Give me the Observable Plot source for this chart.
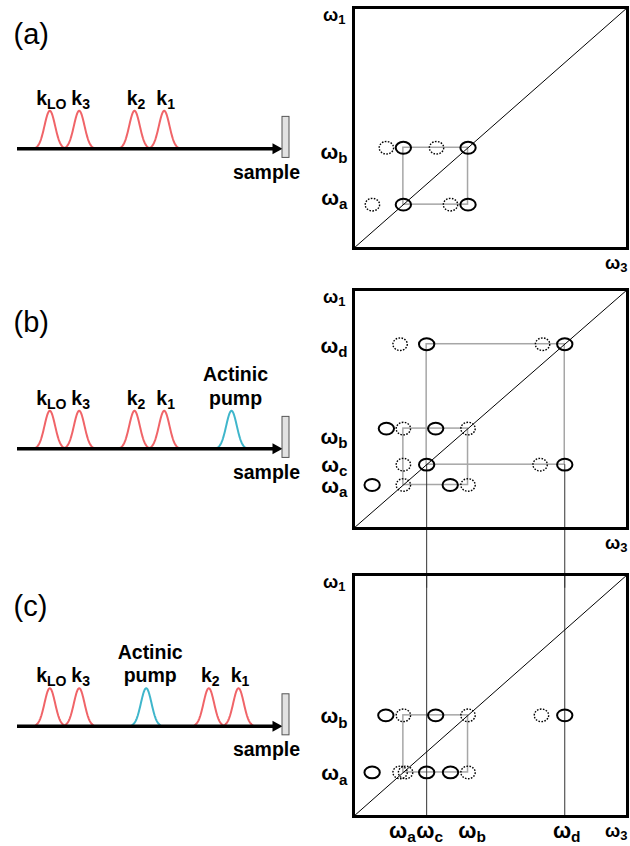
<!DOCTYPE html>
<html>
<head>
<meta charset="utf-8">
<script src="https://cdn.jsdelivr.net/npm/d3@7"></script>
<script src="https://cdn.jsdelivr.net/npm/@observablehq/plot@0.6"></script>
<style>
  html, body { margin: 0; padding: 0; background: white; }
  #fig { position: relative; width: 630px; height: 846px; overflow: hidden; }
  #fig svg { position: absolute; }
</style>
</head>
<body>
<div id="fig"></div>
<script>
// ---------------- DATA ----------------
// Pulse sequences (delay positions along the beam, arbitrary units)
const pulseNamesA = ["k_LO", "k_3", "k_2", "k_1"];
const pulseDelaysA = [49.3, 78.7, 134, 163.7];
const pulseNamesB = ["k_LO", "k_3", "k_2", "k_1", "Actinic\npump"];
const pulseDelaysB = [49.3, 78.7, 134, 163.7, 231];
const pulseNamesC = ["k_LO", "k_3", "Actinic\npump", "k_2", "k_1"];
const pulseDelaysC = [49.3, 78.7, 145.7, 208.3, 238];

// Frequencies (fraction of spectral window)
const wa = 0.182, wb = 0.418, wc = 0.267, wd = 0.771;

// Peaks [omega3, omega1]
const solidA  = [[wa, wa], [wb, wa], [wa, wb], [wb, wb]];
const dottedA = [[0.069, wa], [0.354, wa], [0.120, wb], [0.303, wb]];

const solidB  = [[wc, wd], [wd, wd], [0.120, wb], [0.300, wb], [wc, wc], [wd, wc], [0.068, wa], [0.353, wa]];
const dottedB = [[0.170, wd], [0.690, wd], [wa, wb], [wb, wb], [wa, wc], [0.681, wc], [wa, wa], [wb, wa]];

const solidC  = [[0.118, wb], [0.300, wb], [wd, wb], [0.068, wa], [wc, wa], [0.354, wa]];
const dottedC = [[wa, wb], [wb, wb], [0.686, wb], [0.170, wa], [0.190, wa], [wb, wa]];

// Cross-peak squares [low, high]
const squaresA = [[wa, wb]];
const squaresB = [[wa, wb], [wc, wd]];
const squaresC = [[wa, wb]];

// Vertical guide lines
const guidesB = [wc, wd];
const guidesC = [wc, wd];

// Axis labels
const rowLabelsA = ["ω_b", "ω_a"];
const rowValuesA = [wb, wa];
const rowLabelsB = ["ω_d", "ω_b", "ω_c", "ω_a"];
const rowValuesB = [wd, wb, wc, wa];
const rowLabelsC = ["ω_b", "ω_a"];
const rowValuesC = [wb, wa];
const colLabelsC = ["ω_a", "ω_c", "ω_b", "ω_d"];
const colValuesC = [wa, wc, wb, wd];

// ---------------- LAYOUT ----------------
const FONT = "'Liberation Sans', Arial, Helvetica, sans-serif";
const RED = "#f06468", CYAN = "#3fb6cb";
const rowDyA = [11, 0], rowDyB = [8.5, 15, 7, 7.5], rowDyC = [8, 8];
const colDxC = [-1, 3, 4, 2];

function ellipseSymbol(aspect) {
  return {
    draw(ctx, size) {
      const ry = Math.sqrt(size / Math.PI), rx = ry * aspect, k = 0.5523;
      ctx.moveTo(rx, 0);
      ctx.bezierCurveTo(rx, k * ry, k * rx, ry, 0, ry);
      ctx.bezierCurveTo(-k * rx, ry, -rx, k * ry, -rx, 0);
      ctx.bezierCurveTo(-rx, -k * ry, -k * rx, -ry, 0, -ry);
      ctx.bezierCurveTo(k * rx, -ry, rx, -k * ry, rx, 0);
      ctx.closePath();
    }
  };
}
const arrowHead = {
  draw(ctx) {
    ctx.moveTo(5, 0); ctx.lineTo(-5, -5.5); ctx.lineTo(-5, 5.5); ctx.closePath();
  }
};

function subscripts(svg) {
  svg.querySelectorAll("text").forEach(t => {
    if (t.querySelector("tspan")) return;
    const s = t.textContent, i = s.indexOf("_");
    if (i < 0) return;
    t.textContent = s.slice(0, i);
    const ts = document.createElementNS("http://www.w3.org/2000/svg", "tspan");
    ts.setAttribute("style", "font-size:0.72em");
    ts.setAttribute("dy", "0.28em");
    ts.textContent = s.slice(i + 1);
    t.appendChild(ts);
  });
}

const fig = document.getElementById("fig");
function place(svg, left, top) {
  svg.style.left = left + "px";
  svg.style.top = top + "px";
  subscripts(svg);
  fig.appendChild(svg);
}

// ---------------- LEFT PANELS (pulse sequences) ----------------
function pulsePanel(names, delays, tag, top, base, tagY) {
  const sig = 5.3;
  const curve = delays.flatMap((d, i) =>
    d3.range(-14, 14.01, 0.5).map(t => ({i, x: d + t, y: Math.exp(-t * t / (2 * sig * sig)), c: names[i].startsWith("k") ? RED : CYAN})));
  const svg = Plot.plot({
    width: 300, height: 200,
    marginLeft: 0, marginRight: 0, marginTop: 0, marginBottom: 0,
    style: {fontFamily: FONT, overflow: "visible", background: "transparent"},
    x: {domain: [0, 300], range: [0, 300], axis: null},
    y: {domain: [0, 1], range: [base, base - 38], axis: null},
    marks: [
      Plot.line(curve, {x: "x", y: "y", z: "i", stroke: "c", strokeWidth: 2}),
      Plot.ruleY([0], {x1: 17, x2: 275, stroke: "black", strokeWidth: 3.5}),
      Plot.dot([0], {x: 277, y: 0, symbol: arrowHead, r: 5, fill: "black", stroke: null}),
      Plot.rect([0], {x1: 282, x2: 289, y1: -0.24, y2: 0.84, fill: "#e2e2e2", stroke: "#555", strokeWidth: 1}),
      Plot.text(names, {x: (d, i) => delays[i] + (d.startsWith("k") ? 1.5 : 4), y: 1, dy: -6, text: d => d,
        lineAnchor: "bottom", lineHeight: 1.2, fontWeight: "bold", fontSize: 19.5, fill: "black"}),
      Plot.text(["sample"], {x: 266, y: 0, dy: 30, text: d => d, lineAnchor: "bottom",
        fontWeight: "bold", fontSize: 19.5, fill: "black"}),
      Plot.text([tag], {frameAnchor: "top-left", dx: 13, dy: tagY, text: d => d, textAnchor: "start",
        lineAnchor: "bottom", fontSize: 29, fill: "black"})
    ]
  });
  place(svg, 0, top);
}
pulsePanel(pulseNamesA, pulseDelaysA, "(a)", 0, 148.3, 43);
pulsePanel(pulseNamesB, pulseDelaysB, "(b)", 290, 158.3, 41.7);
pulsePanel(pulseNamesC, pulseDelaysC, "(c)", 580, 145.7, 35);

// ---------------- RIGHT PANELS (2D spectra) ----------------
const solidSym = ellipseSymbol(1.3), dottedSym = ellipseSymbol(1.14);
function spectrumPanel(opts) {
  const {top, height, mt, mb, solid, dotted, squares, rowLabels, rowValues, rowDy,
    guides, guideFrom, guideTo, colLabels, colValues} = opts;
  const marks = [
    Plot.rect(squares, {x1: d => d[0], x2: d => d[1], y1: d => d[0], y2: d => d[1],
      fill: "none", stroke: "#a6a6a6", strokeWidth: 1.5}),
  ];
  if (guides) marks.push(Plot.ruleX(guides, {x: d => d, y1: guideFrom, y2: guideTo,
    stroke: "#333", strokeWidth: 1}));
  marks.push(
    Plot.link([0], {x1: 0, y1: 0, x2: 1, y2: 1, stroke: "black", strokeWidth: 1}),
    Plot.dot(dotted, {x: d => d[0], y: d => d[1], symbol: dottedSym, r: 6.3, fill: "none",
      stroke: "black", strokeWidth: 1.4, strokeDasharray: "1.6 1.4"}),
    Plot.dot(solid, {x: d => d[0], y: d => d[1], symbol: solidSym, r: 5.9, fill: "none",
      stroke: "black", strokeWidth: 2}),
    Plot.frame({stroke: "black", strokeWidth: 3}),
    Plot.text(["ω_1"], {x: 0, y: 1, dx: -8, dy: 13, text: d => d, textAnchor: "end", lineAnchor: "bottom",
      fontWeight: "bold", fontSize: 18, fill: "black"}),
    Plot.text(["ω_3"], {x: 1, y: 0, dx: 0, dy: 20, text: d => d, textAnchor: "end", lineAnchor: "bottom",
      fontWeight: "bold", fontSize: 18, fill: "black"}),
    ...rowLabels.map((l, i) => Plot.text([l], {x: 0, y: rowValues[i], dx: -6, dy: rowDy[i], text: d => d,
      textAnchor: "end", lineAnchor: "bottom", fontWeight: "bold", fontSize: 21, fill: "black"}))
  );
  if (colLabels) marks.push(...colLabels.map((l, i) => Plot.text([l], {x: colValues[i], y: 0, dx: colDxC[i], dy: 21,
    text: d => d, textAnchor: "middle", lineAnchor: "bottom", fontWeight: "bold", fontSize: 21.5, fill: "black"})));
  const svg = Plot.plot({
    width: 330, height,
    marginLeft: 53, marginRight: 3, marginTop: mt, marginBottom: mb,
    style: {fontFamily: FONT, overflow: "visible", background: "transparent"},
    x: {domain: [0, 1], axis: null},
    y: {domain: [0, 1], axis: null},
    marks
  });
  place(svg, 300, top);
}

spectrumPanel({top: 0, height: 280, mt: 7, mb: 32, solid: solidA, dotted: dottedA, squares: squaresA,
  rowLabels: rowLabelsA, rowValues: rowValuesA, rowDy: rowDyA});
spectrumPanel({top: 280, height: 294, mt: 9, mb: 46, solid: solidB, dotted: dottedB, squares: squaresB,
  rowLabels: rowLabelsB, rowValues: rowValuesB, rowDy: rowDyB,
  guides: guidesB, guideFrom: wc, guideTo: -0.25});
spectrumPanel({top: 560, height: 286, mt: 14, mb: 30, solid: solidC, dotted: dottedC, squares: squaresC,
  rowLabels: rowLabelsC, rowValues: rowValuesC, rowDy: rowDyC,
  guides: guidesC, guideFrom: 0, guideTo: 1, colLabels: colLabelsC, colValues: colValuesC});
</script>
</body>
</html>
